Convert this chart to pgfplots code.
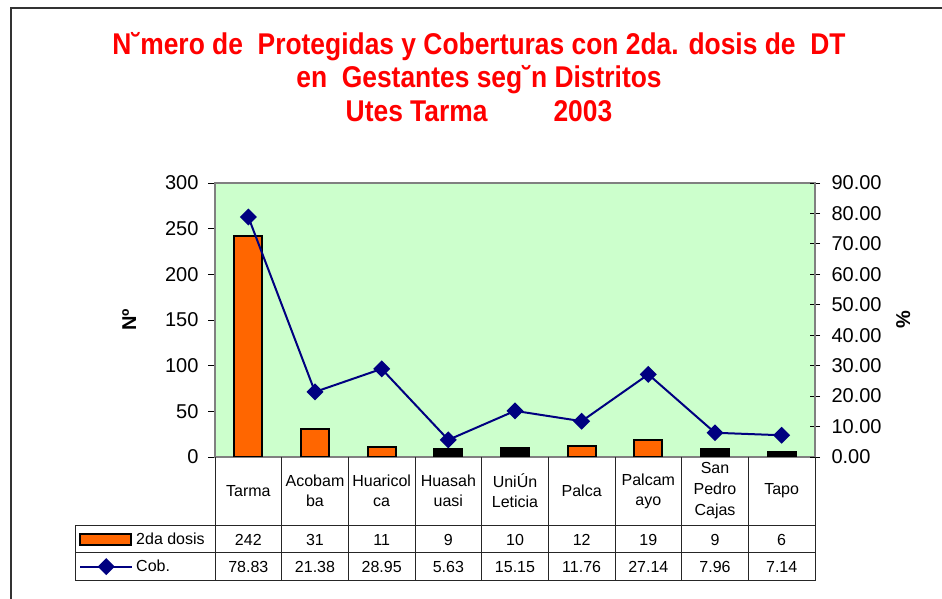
\documentclass[border=0pt]{standalone}
\usepackage{pgfplots}
\pgfplotsset{compat=1.18}
\usepackage{fontspec}
\setmainfont{Liberation Sans}
\newfontfamily\titlefont{Liberation Sans}[FakeStretch=0.88]
\definecolor{barorange}{HTML}{FF6600}
\definecolor{bggreen}{HTML}{CCFFCC}
\definecolor{navyline}{HTML}{000080}
\definecolor{framegray}{HTML}{808080}
\pgfplotsset{
  barlegend/.style={legend image code/.code={\draw[fill=barorange, draw=black, line width=2pt] (0pt,-5.5pt) rectangle (51pt,5.5pt);}},
  linelegend/.style={legend image code/.code={\draw[mark repeat=2, mark phase=2, ##1] plot coordinates {(0pt,0pt)(26pt,0pt)(52pt,0pt)};}},
}
\begin{document}
\begin{tikzpicture}[x=1pt,y=1pt]
\useasboundingbox (0,0) rectangle (942,599);
\draw[line width=2pt, black!80] (11,0) -- (11,591) -- (942,591);
% title
\begin{scope}[every node/.style={anchor=base, text=red, font=\titlefont\bfseries\fontsize{30}{33}\selectfont, inner sep=0pt}]
\node at (479,544) {N˘mero de\ \ Protegidas y Coberturas con 2da. dosis de\ \ DT};
\node at (479,511) {en\ \ Gestantes seg˘n Distritos};
\node at (479,477) {Utes Tarma\hspace{66pt}2003};
\end{scope}
\begin{axis}[
  at={(215pt,142pt)}, anchor=south west,
  scale only axis, width=600pt, height=274pt,
  xmin=-0.5, xmax=8.5, ymin=0, ymax=300,
  xtick=\empty,
  ytick={0,50,...,300},
  ytick pos=left,
  tick align=outside,
  major tick length=7pt,
  tick style={black, line width=0.8pt},
  axis background/.style={fill=bggreen},
  axis line style={framegray, line width=2pt},
  ticklabel style={font=\fontsize{20}{24}\selectfont},
  yticklabel style={xshift=-6pt},
  /pgf/number format/assume math mode=true,
  ylabel={\textbf{Nº}},
  ylabel style={at={(axis description cs:-0.143,0.5)}, anchor=center, font=\fontsize{20}{24}\selectfont},
]
\addplot[ybar, bar width=28pt, bar shift=0pt, fill=barorange, draw=black, line width=2pt] coordinates {(0,242)(1,31)(2,11)(3,9)(4,10)(5,12)(6,19)(7,9)(8,6)};
\addplot[ybar, bar width=28pt, bar shift=0pt, fill=black, draw=black, line width=2pt] coordinates {(3,9)(4,10)(7,9)(8,6)};
\end{axis}
\begin{axis}[
  at={(215pt,142pt)}, anchor=south west,
  scale only axis, width=600pt, height=274pt,
  xmin=-0.5, xmax=8.5, ymin=0, ymax=90,
  axis x line=none, axis y line*=right,
  ytick={0,10,...,90},
  tick align=center, major tick length=10pt,
  tick style={black, line width=0.8pt},
  axis line style={framegray, line width=2pt},
  ticklabel style={font=\fontsize{20}{24}\selectfont},
  /pgf/number format/assume math mode=true,
  yticklabel style={xshift=8pt, /pgf/number format/.cd, fixed, fixed zerofill, precision=2},
  ylabel={\textbf{\%}},
  ylabel style={at={(axis description cs:1.147,0.5)}, anchor=center, font=\fontsize{20}{24}\selectfont},
  clip=false,
  legend style={at={(axis description cs:-0.2333,-0.2518)}, anchor=north west, draw=none, fill=none,
     inner xsep=4pt, inner ysep=0pt, row sep=0pt, column sep=3pt,
     nodes={inner sep=0pt, minimum height=27pt}, font=\fontsize{16}{19}\selectfont},
  legend cell align=left,
]
\addlegendimage{barlegend}
\addlegendentry{2da dosis}
\addplot[navyline, line width=2pt, mark=square*, mark size=5pt, mark options={rotate=45, fill=navyline, solid}, linelegend] coordinates {(0,78.83)(1,21.38)(2,28.95)(3,5.63)(4,15.15)(5,11.76)(6,27.14)(7,7.96)(8,7.14)};
\addlegendentry{Cob.}
\end{axis}
% data table
\begin{scope}[black!85, line width=1pt]
\foreach \k in {0,...,9} { \draw (215+66.667*\k,142) -- (215+66.667*\k,18); }
\draw (75,73) -- (815,73);
\draw (75,46) -- (815,46);
\draw (75,18) -- (815,18);
\draw (75,73) -- (75,18);
\end{scope}
\begin{scope}[every node/.style={font=\fontsize{16}{20}\selectfont, align=center, inner sep=0pt}]
\foreach \i/\name in {0/Tarma, 1/{Acobam\\ba}, 2/{Huaricol\\ca}, 3/{Huasah\\uasi}, 4/{UniÚn\\Leticia}, 5/Palca, 6/{Palcam\\ayo}, 7/{San\\[1pt]Pedro\\[1pt]Cajas}, 8/Tapo}
  { \node at (248.33+66.667*\i,108) {\name}; }
\foreach \i/\a/\b in {0/242/78.83, 1/31/21.38, 2/11/28.95, 3/9/5.63, 4/10/15.15, 5/12/11.76, 6/19/27.14, 7/9/7.96, 8/6/7.14}
  { \node at (248.33+66.667*\i,59.5) {\a}; \node at (248.33+66.667*\i,32) {\b}; }
\end{scope}
\end{tikzpicture}
\end{document}
